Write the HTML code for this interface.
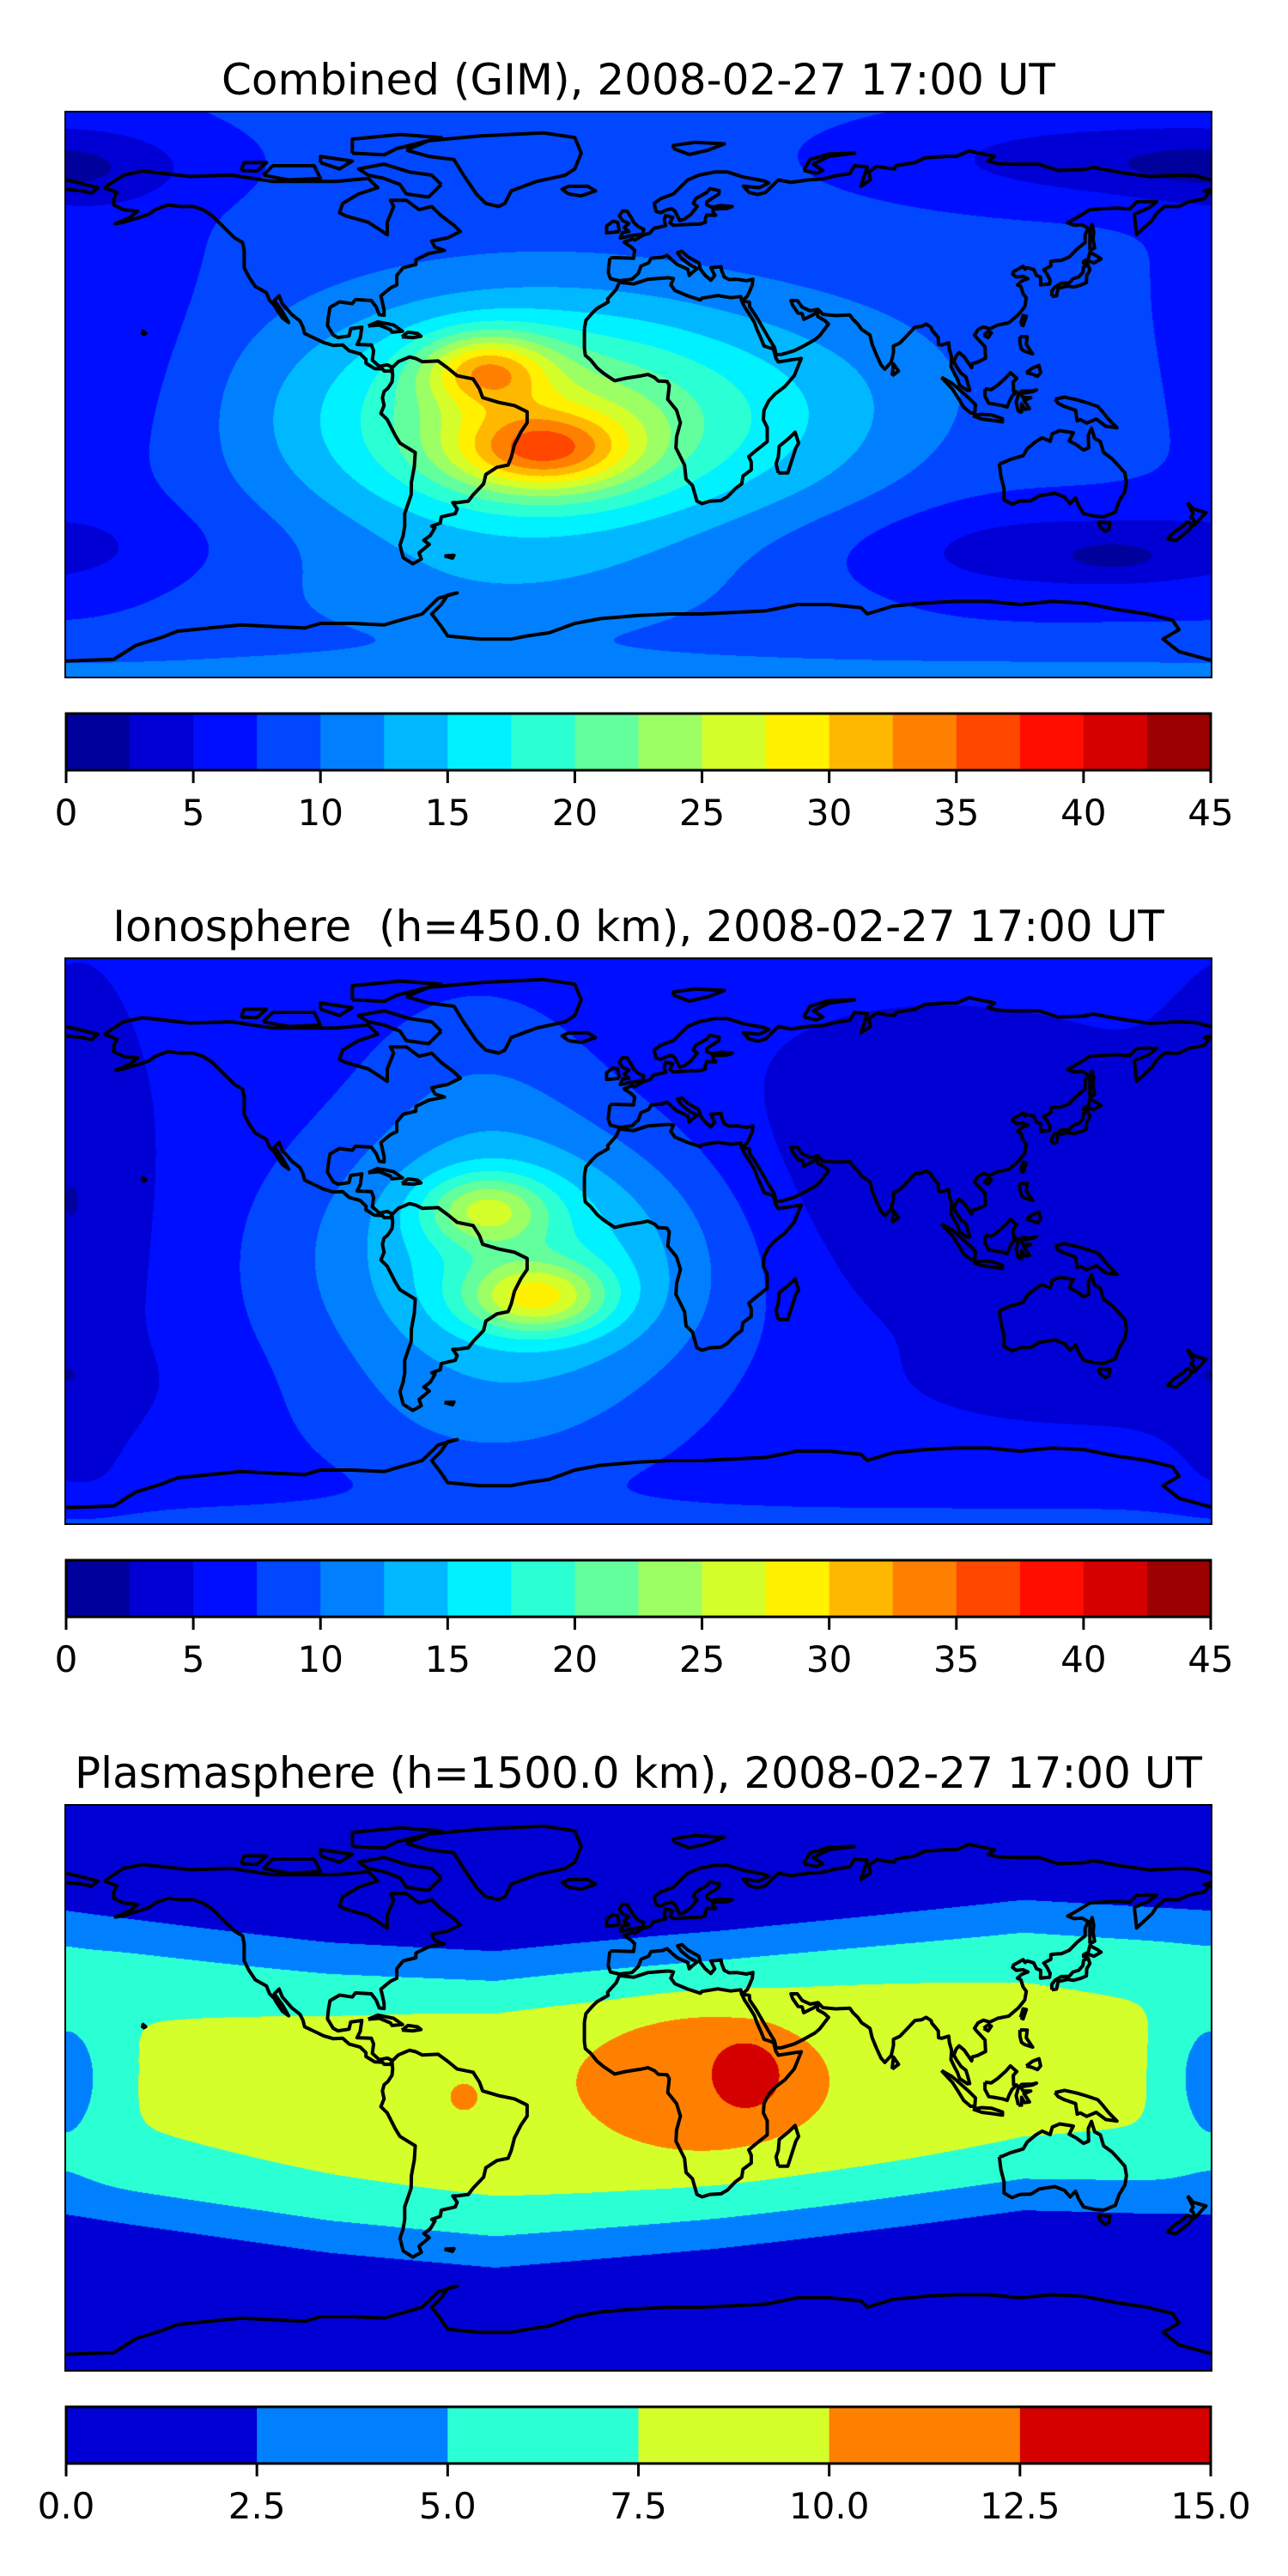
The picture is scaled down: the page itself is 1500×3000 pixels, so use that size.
<!DOCTYPE html>
<html><head><meta charset="utf-8">
<style>
html,body{margin:0;padding:0;background:#fff;}
body{width:1500px;height:3000px;position:relative;overflow:hidden;font-family:"DejaVu Sans","Liberation Sans",sans-serif;}
.title{position:absolute;left:0;width:1487px;text-align:center;font-size:50px;line-height:50px;color:#000;white-space:pre;}
.map{position:absolute;left:77px;width:1333px;height:657px;}
.map canvas{position:absolute;left:0;top:0;width:1333px;height:657px;}
.map svg{position:absolute;left:0;top:0;}
.frame{position:absolute;left:-2px;top:-2px;width:1333px;height:657px;border:2px solid #000;}
.cbar{position:absolute;left:77px;width:1333px;height:66px;}
.cbar svg{position:absolute;left:0;top:0;overflow:visible;}
.tick{position:absolute;font-size:42px;line-height:42px;transform:translateX(-50%);color:#000;}
</style></head>
<body>
<div class="title" style="top:68px">Combined (GIM), 2008-02-27 17:00 UT</div>
<div class="map" id="map0" style="top:131px"></div>
<div class="cbar" id="cb0" style="top:831px"></div>

<div class="title" style="top:1054px">Ionosphere  (h=450.0 km), 2008-02-27 17:00 UT</div>
<div class="map" id="map1" style="top:1117px"></div>
<div class="cbar" id="cb1" style="top:1817px"></div>

<div class="title" style="top:2040px">Plasmasphere (h=1500.0 km), 2008-02-27 17:00 UT</div>
<div class="map" id="map2" style="top:2103px"></div>
<div class="cbar" id="cb2" style="top:2803px"></div>

<script>
// ---------- data ----------
const levelsA = [0,2.5,5,7.5,10,12.5,15,17.5,20,22.5,25,27.5,30,32.5,35,37.5,40,42.5,45];
const levelsB = [0,2.5,5,7.5,10,12.5,15];
const ticksA = ["0","5","10","15","20","25","30","35","40","45"];
const ticksAVal = [0,5,10,15,20,25,30,35,40,45];
const ticksB = ["0.0","2.5","5.0","7.5","10.0","12.5","15.0"];
const ticksBVal = [0,2.5,5,7.5,10,12.5,15];

// Combined field: background + blobs (lon, lat, sigmaLon, sigmaLat, amplitude, power)
const base0 = 8;
const lon0 = [-32,-48,-30,65,-50,140,-178,140,0,-165,100,150];
const lat0 = [-8,8,-18,-5,-65,75,72,-50,-92,15,-20,-52];
const sx0  = [52,14,20,45,60,45,25,55,400,22,25,12];
const sy0  = [26,8,9,25,15,10,8,11,6,45,25,4];
const amp0 = [16.5,12,13,3,2.5,-4,-3,-4.5,4,-2.2,-1,-2];
const pw0  = [2,2,2,2,2,2,2,2,2,2,2,2];

// Ionosphere field
const base1 = 6;
const lon1 = [-35,-48,-32,95,-175,150,0,-50,-50];
const lat1 = [-5,10,-18,20,0,-45,-92,50,-60];
const sx1  = [46,14,16,60,15,40,400,25,40];
const sy1  = [30,8,8,35,60,10,6,25,20];
const amp1 = [11.5,10,12.5,-3.5,-2.5,-2,3,2.5,2.5];
const pw1  = [2,2,2,2,2,2,2,2,2];

// Plasmasphere field: tilted zonal band (centreline) + blobs
const bandLon = [-180,-97,-45,25,121,180];
const bandLat = [8,-3.5,-8,-1,11,8];
const bandAmp = 7.3, bandWidth = 40;
const base2 = 0;
const lon2 = [10,22,35,-55,180,-180];
const lat2 = [2,2,5,-3,3,3];
const sx2  = [85,30,10,4,9,9];
const sy2  = [28,20,11,4,16,16];
const amp2 = [2.5,2.2,1.5,1.6,-2,-2];
const pw2  = [2,4,4,4,2,2];

// coastlines [lon,lat]
const coasts = [
[[-168,66],[-162,70],[-156,71.3],[-141,69.6],[-128,70],[-115,68],[-95,68],[-85,69],[-82,66],[-88,64],[-93,61],[-94,58],[-92,57],[-85,55],[-82,53],[-79,51],[-79,55],[-77,60],[-78,62],[-73,62],[-69,59],[-65,60],[-62,57],[-58,54],[-56,52],[-60,50],[-65,49],[-64,47],[-61,46],[-66,45],[-70,43],[-70,41.5],[-74,40.5],[-76,38],[-76,35],[-78,34],[-81,31.5],[-80,27],[-80,25.3],[-81.5,25.5],[-82.5,28],[-84,30],[-89,30.3],[-90,29],[-94,29.6],[-97,27.8],[-97.5,25],[-97.8,22],[-96,19],[-94.5,18.2],[-91,18.7],[-90.5,21],[-87,21.5],[-87.5,18],[-88.5,16],[-84,15.8],[-83.3,14],[-83.7,11],[-81.5,9],[-79,9.5],[-77.4,8.7],[-78,7.5],[-80,7.5],[-80.5,8.2],[-83,8.3],[-85.7,10],[-85.7,11.2],[-87.5,13],[-91,14],[-93,15.8],[-96,15.7],[-99,16.6],[-101.5,17.8],[-105,19.5],[-105.5,21.5],[-106.5,23.5],[-109,25.5],[-112,29],[-113,31.5],[-114.5,30],[-112,26.5],[-110,23],[-110.3,23.2],[-112,24.5],[-114,27.5],[-114.5,28.5],[-116,30],[-117,32.5],[-120.5,34.5],[-122.5,37.5],[-124,40.5],[-124,46],[-124.5,48.5],[-127,50],[-131,54],[-134,57],[-137,59],[-140,60],[-144,60],[-148,60.5],[-152,59],[-154,57.5],[-157,56.5],[-162,55],[-164.5,54.5],[-160,56.5],[-157.5,58.5],[-162,59],[-165,60.5],[-165,62.5],[-164,64.5],[-168,66]],
[[-73,78],[-66,81],[-50,82.5],[-30,83.5],[-20,82],[-18,77],[-20,72],[-23,70],[-32,68],[-40,65],[-42,61],[-44,60],[-48,61],[-51,64],[-53,67],[-55,70],[-58,75],[-66,76],[-73,78]],
[[-62,67],[-65,70],[-72,71],[-80,73.5],[-88,72],[-85,70],[-80,69],[-75,67],[-73,64],[-66,63],[-62,67]],
[[-90,77],[-80,76.5],[-76,78.5],[-70,80],[-62,82],[-75,83],[-90,81.5],[-90,77]],
[[-118,70],[-110,68.5],[-100,69],[-102,73],[-115,73],[-118,70]],
[[-125,71.5],[-120,71.3],[-117,74],[-124,74],[-125,71.5]],
[[-100,74],[-94,72],[-90,74.5],[-100,76],[-100,74]],
[[-77.5,8.5],[-75.5,10.5],[-72,12],[-70,11.5],[-68,10.5],[-63,10.7],[-60,8.5],[-57,6],[-52,5],[-50,1.8],[-49,-1],[-44,-2.5],[-39,-3.5],[-35,-5.5],[-35,-9],[-37,-12],[-39,-16],[-40,-20],[-41,-22.5],[-44.5,-23.2],[-48,-25.5],[-48.7,-28.5],[-52,-32],[-53.5,-34],[-57,-34.5],[-58.4,-34.5],[-57,-36.5],[-57.6,-38],[-62,-39],[-62.3,-41],[-65,-42],[-64,-42.5],[-65.5,-45],[-67.5,-46.5],[-65.8,-47.8],[-69,-50.5],[-68.3,-52.5],[-71,-54],[-74,-52],[-75,-48],[-74,-45],[-73.5,-42],[-73.5,-38],[-71.5,-32],[-71.4,-28],[-70.5,-23],[-70.2,-18.5],[-75,-15.5],[-76.5,-13],[-79,-8],[-81,-6],[-80,-3.5],[-80.5,-1],[-80,1],[-78.8,2],[-77.5,4],[-77.3,6],[-77.5,8.5]],
[[-17,21],[-17,14.7],[-16.7,12.5],[-15,11],[-13,8.5],[-11,6.8],[-7.5,4.4],[-4,5.2],[1,6],[3,6.4],[5,5.5],[6.3,4.3],[9,4.2],[9.7,3],[9.5,1],[9.2,-1.5],[12,-5],[13.2,-9],[12,-13.5],[11.8,-17],[14.5,-22.5],[15,-27],[17,-29],[18.4,-34],[20,-34.8],[22.5,-34],[26,-33.8],[28,-32.6],[30.5,-30],[32.5,-28.5],[32.9,-26],[35.5,-24],[35.5,-21.5],[34.7,-19.8],[36.8,-18],[40.5,-15],[40.5,-10.5],[39.3,-8],[39.5,-5],[41,-2],[43,0.2],[46,2.5],[49,6],[51.2,11.5],[49.5,11.3],[44,10.4],[43.2,11.7],[42.5,14.5],[39.5,15.5],[38.5,18],[37.2,21],[36.5,23],[35,25.5],[33.5,27.8],[32.5,29.9],[32.2,31.3],[29,30.9],[25,31.6],[20,30.8],[19.5,30.2],[15.5,31.5],[11.5,33.2],[10.2,35],[11,37],[9.5,37.3],[3,36.8],[-1.5,35.3],[-6,35.8],[-7,33.5],[-9.7,30.5],[-9.5,29.5],[-13,27.5],[-14.5,26],[-16.5,23.7],[-17,21]],
[[-9,43.5],[-9.5,39],[-8.8,37],[-6,36.3],[-2,36.8],[0,38.7],[0.8,41],[3.2,42],[4,43.5],[7.5,43.8],[9,44.4],[10.5,43],[12.2,41.5],[15.5,40],[16,38],[17,39],[18.5,40.2],[16,41.5],[13.5,43.6],[12.3,45.3],[13.7,45.7],[15.5,44],[19,42],[19.5,40],[21,38],[22.8,36.5],[24,38],[22.8,40.5],[26,40.8],[26.2,39.5],[27,37.5],[28.5,36.7],[31,36.8],[34,36.3],[36,36.8],[35.8,35],[35,33],[34.2,31.3],[32.5,29.9],[34.9,29.5],[35,28],[37,25],[39,21.5],[41,18],[42.8,15],[43.3,12.7],[45,12.8],[49,14],[52,15.5],[55.5,17.5],[57,18.8],[59.8,22.5],[58.5,23.7],[56.4,24.9],[56.3,26.3],[55,25.5],[52,24],[51.5,25.8],[50.2,26],[48.5,28.5],[48,30],[50,30],[51.5,27.9],[54,26.7],[56.5,27.2],[58,25.6],[62,25.2],[66.5,25.4],[67.5,24],[69,22.5],[70.2,20.8],[72.8,19],[73.5,16],[74.8,12.8],[76.3,9.5],[77.5,8.1],[79.5,10.3],[80.2,13.5],[80.2,15.5],[82.3,16.5],[84.9,19.3],[87,21.5],[89,21.7],[90.5,22.5],[92,21.5],[92.3,20.6],[94.3,18.2],[94.4,16],[95.4,15.8],[97.6,16.5],[97.8,14.5],[98.5,12],[98.3,9],[99.5,6.5],[100.3,5],[101,3],[103.5,1.3],[104.2,1.4],[103.5,4],[103,5.6],[101.5,6.8],[100,9],[99.2,10.5],[100,12.5],[100.9,13.4],[102.5,12],[104.8,8.6],[105,9.9],[106.6,10.3],[109.2,11.6],[109,15.3],[106.5,18],[105.7,19],[106.8,20.7],[108.5,21.6],[110.5,21],[113,22.2],[116.5,22.9],[119.5,25.5],[121.5,28],[122,30.8],[121,32.2],[120.3,34.5],[119.2,35],[120.5,36.2],[122.5,37],[121,37.7],[118.8,37.5],[117.7,38.4],[118,39.2],[121,40.9],[121.6,40],[122.3,40.5],[124.3,39.9],[125.2,38],[126.5,37.5],[126.5,35],[129.3,35.3],[129.5,36.5],[128.5,38.5],[127.5,39.8],[129.7,41],[129.7,42.5],[131,42.7],[133,42.8],[135.5,43.9],[138,46.5],[140.5,48.5],[140.5,51],[141.5,53],[139.5,54.2],[137,54],[135,54.8],[138,56.5],[142,59],[146,59.3],[150.5,59.5],[154.5,59.2],[156.8,61.5],[160,61.6],[163,61.5],[160.5,59.5],[156,57.6],[156.7,51],[158.5,52.7],[161.5,55.5],[163,57.8],[165.5,60],[170,60],[173,61.5],[178,62.5],[179.5,64.5],[178,65],[180,65.5]],
[[180,68.5],[175,69.8],[170,70],[161,69.5],[152,70.8],[143,72.5],[140,71.8],[132,71.5],[129,72.5],[126,73.5],[118,73.5],[113,73.7],[110,74.5],[112,76],[104,77.7],[100,76],[97,76],[90,75.5],[87,74],[81,73],[80.5,72],[78,72.3],[75,72.8],[72.5,71],[73,68.5],[70,66.5],[72,72.6],[68,73],[66.5,70.5],[62,69.8],[58,68.8],[53.5,68.5],[48,67.7],[44,68.5],[42,66.5],[40,64.5],[37.5,63.8],[34.8,64.5],[33,66.5],[38,66],[41,67.5],[39.5,68.2],[33,69.4],[28,71],[24,71],[19,70],[15.5,68.5],[13,66],[11,64],[7,62.5],[5,61],[5.5,58.5],[7,58],[9,59],[10.5,59.3],[11.5,58.5],[12.5,56.5],[13,55.5],[14.5,56],[16.5,57.5],[18.5,60],[17.3,61],[18,62.5],[21.5,64.5],[22.5,65.7],[25.4,65.1],[25.3,64],[21.5,61.5],[21.5,60.5],[23,59.8],[26,60.3],[29.5,60],[28,59.4],[23.5,59.2],[23.5,58.3],[24.3,57.2],[21.5,57.3],[21,56],[21.1,55],[19.5,54.4],[16,54.3],[13.5,54.2],[11,54],[9.9,54.8],[10.8,56.6],[8.5,57.1],[8.1,55.5],[8.6,53.9],[7,53.5],[4.8,53],[3.6,51.5],[1.6,50.9],[-1.2,49.3],[-1.8,49.7],[-4.5,48.6],[-2.3,47.1],[-1.2,46],[-1.5,43.5],[-8,43.7],[-9,43.5]],
[[-180,65.5],[-175,65],[-172,64.3],[-170,66],[-175,67.3],[-180,68.5]],
[[-5,50],[-3,50.6],[1.3,51.2],[1.7,52.7],[0,53.5],[-1.5,55],[-2,56],[-3.5,58.5],[-5,58.6],[-6,57],[-5,55.5],[-3,54.6],[-4.5,53.3],[-3,52],[-5,51.7],[-5.7,50],[-5,50]],
[[-6,52],[-6.5,55],[-8,55.3],[-10,53.8],[-10,51.6],[-6,52]],
[[-22,64],[-24,65.5],[-22,66.4],[-16,66.5],[-13.5,65],[-18,63.4],[-22,64]],
[[11,78.5],[16,76.6],[22,78],[27,80],[18,80.5],[11,79.5],[11,78.5]],
[[52,71.5],[56,70.6],[58,71.5],[55,73.5],[60,76],[68,77],[60,76.8],[54,75],[52,71.5]],
[[130,31.3],[131.5,31.5],[132,33.9],[135,34.6],[136.8,34.3],[139,34.9],[140.9,35.7],[141,38],[142,39.7],[141.4,41.4],[140,40.7],[139.8,39],[138.5,37.5],[136.7,37],[135.5,35.6],[133,35.5],[131,34.3],[130,33],[130,31.3]],
[[140,41.5],[141.5,42.6],[143.3,42],[145.5,43.3],[144.5,44],[142,45.4],[141.5,43.3],[140,42.5],[140,41.5]],
[[142,46],[143.5,46.8],[143,49.5],[143.2,52],[142.7,54.3],[142,52.5],[142,46]],
[[120.2,22.5],[121,22],[122,25],[121,25.2],[120.2,22.5]],
[[108.6,19],[110,18.2],[111,19.7],[110,20.1],[108.6,19]],
[[79.8,6],[81.8,7.5],[80.2,9.8],[79.8,6]],
[[44,-25],[47,-25],[49.5,-17],[50.4,-15.5],[49.3,-12],[47.3,-14],[44.3,-16.5],[44,-20],[43.3,-22],[44,-25]],
[[95.3,5.5],[98.5,3.7],[100.5,2],[103.8,-1],[106,-3.2],[105.8,-5.8],[104.5,-5.9],[102.3,-4],[100.5,-1],[98.8,1.7],[95.3,5.5]],
[[105.2,-6.8],[108,-6.3],[111,-6.5],[114.5,-7.7],[114.5,-8.7],[111,-8.2],[108,-7.8],[105.2,-6.8]],
[[109,1.8],[111,1.6],[113,3],[115.5,5.3],[117,7],[119,5.2],[117.9,4],[118,1],[119,0.9],[117.5,-0.5],[116.5,-2.5],[116,-4],[114.5,-3.5],[111.7,-3],[110.2,-2.8],[109,-0.5],[109,1.8]],
[[119.5,-5.5],[120.5,-5.5],[120.5,-3],[121.5,-4.7],[123,-4.5],[121.3,-1.9],[123.4,-1],[121,-1],[120.2,0.3],[124,0.9],[125.2,1.5],[124,1.2],[120.5,1.1],[119.5,0],[118.8,-2.5],[119.5,-5.5]],
[[131,-1.5],[134,-0.8],[138,-1.7],[141,-2.6],[144.5,-3.8],[146,-5.5],[148,-8],[150.5,-10.6],[147,-10.1],[144,-7.8],[141,-9.1],[139,-8],[138,-8.4],[137.5,-5],[134,-3.8],[132,-2.8],[131,-1.5]],
[[120,18.5],[122.3,18.4],[122,16],[124,13],[121.5,13.8],[120.5,14.5],[120,16.5],[120,18.5]],
[[122,7],[124,8.5],[126,9.3],[126.5,7],[125.5,5.8],[124,6.5],[122,7]],
[[113.5,-22],[114,-26],[115,-30],[115,-33.6],[117.5,-35],[120,-34],[123.5,-33.9],[126,-32.3],[131,-31.5],[134,-32.7],[135.8,-34.8],[137.5,-33],[138.5,-35.5],[140,-38],[143.5,-38.8],[146.4,-39],[150,-37.5],[151.2,-34],[153,-31],[153.5,-28],[153,-25],[150.8,-22.5],[149,-20.5],[146.3,-18.5],[145.3,-15],[143.5,-14],[142.5,-10.7],[141.5,-13],[141.6,-17],[140,-17.7],[137.7,-16],[135.5,-14.8],[136.8,-12.2],[132.5,-11.5],[130.2,-12.5],[129.5,-14.9],[127,-13.8],[125,-15],[122.3,-17.3],[121,-19.5],[117,-20.7],[114.5,-21.8],[113.5,-22]],
[[144.6,-40.7],[148.3,-40.9],[148,-43],[146.8,-43.6],[145.3,-42.3],[144.6,-40.7]],
[[172.7,-34.5],[174.5,-36.5],[178.5,-37.7],[177,-39.3],[175,-41.6],[174.6,-39.8],[173.8,-39.2],[174.5,-38],[172.7,-34.5]],
[[172.7,-40.5],[174.3,-41.7],[172.8,-43.6],[171,-45],[169,-46.6],[166.5,-46],[168.3,-44],[171.5,-41.8],[172.7,-40.5]],
[[-85,21.9],[-82,23.2],[-77,22.2],[-74.2,20.2],[-77.5,19.9],[-78,20.7],[-81.5,22.2],[-85,21.9]],
[[-74.4,18.4],[-72.5,19.9],[-69.5,19.5],[-68.4,18.6],[-71,18.2],[-74.4,18.4]],
[[-156,19],[-155,19.5],[-155.8,20.2],[-156,19]],
[[-61,-51.5],[-58,-51.3],[-58.5,-52.2],[-61,-51.5]],
[[-180,-85],[-165,-84.5],[-158,-80],[-150,-77.5],[-145,-75.5],[-135,-74.5],[-125,-73.5],[-115,-74],[-105,-74.5],[-100,-73],[-90,-73],[-80,-73.5],[-75,-72],[-68,-70],[-63,-65],[-57,-63.3],[-60,-64],[-62,-67],[-65,-70],[-62,-74],[-60,-77],[-50,-78],[-40,-78],[-35,-77],[-28,-76],[-20,-73],[-12,-71.5],[0,-70.5],[10,-70],[20,-70],[30,-69.5],[40,-69],[50,-67],[60,-67],[70,-68],[72,-70],[80,-67.5],[90,-66.5],[100,-66],[110,-66],[120,-67],[130,-66],[140,-66.5],[150,-68.5],[160,-70],[168,-72],[170,-75],[165,-78],[170,-82],[180,-84.8]]
];

// ---------- rendering ----------
const MW = 1333, MH = 657;
function xOf(lon){ return (lon+180)/360*MW; }
function yOf(lat){ return (90-lat)/180*MH; }
function jet(x){
  const c = v => Math.max(0, Math.min(1, v));
  return [c(1.5-Math.abs(4*x-3)), c(1.5-Math.abs(4*x-2)), c(1.5-Math.abs(4*x-1))].map(v=>Math.round(v*255));
}
function bandColors(levels){
  const n = levels.length-1, out=[];
  for(let i=0;i<n;i++) out.push(jet((i+0.5)/n));
  return out;
}
function bandCenter(lon){
  for(let i=0;i<bandLon.length-1;i++){
    if(lon>=bandLon[i] && lon<=bandLon[i+1]){
      const t=(lon-bandLon[i])/(bandLon[i+1]-bandLon[i]);
      return bandLat[i]+t*(bandLat[i+1]-bandLat[i]);
    }
  }
  return bandLat[bandLat.length-1];
}
function drawMap(id, base, lons, lats, sxs, sys, amps, pws, levels, name, useBand){
  const host = document.getElementById(id);
  const cv = document.createElement('canvas');
  
  
  cv.width = MW; cv.height = MH;
  host.appendChild(cv);
  const ctx = cv.getContext('2d');
  const img = ctx.createImageData(MW, MH);
  const cols = bandColors(levels);
  const lmin = levels[0], step = levels[1]-levels[0], n = levels.length-1;
  const centers = [];
  for(let px=0;px<MW;px++) centers.push(bandCenter(-180+(px+0.5)/MW*360));
  for(let py=0;py<MH;py++){
    const lat = 90-(py+0.5)/MH*180;
    for(let px=0;px<MW;px++){
      const lon = -180+(px+0.5)/MW*360;
      let v = base;
      if(useBand){
        const d=(lat-centers[px])/bandWidth;
        v += bandAmp*Math.exp(-d*d*d*d/2);
      }
      for(let k=0;k<lons.length;k++){
        let dx = lon-lons[k];
        if(sxs[k] < 1000){ if(dx>180) dx-=360; if(dx<-180) dx+=360; }
        const dy = lat-lats[k];
        const r2 = (dx*dx)/(sxs[k]*sxs[k]) + (dy*dy)/(sys[k]*sys[k]);
        v += amps[k]*Math.exp(-(pws[k]===4 ? r2*r2 : r2)/2);
      }
      let b = Math.floor((v-lmin)/step);
      if(b<0) b=0; if(b>n-1) b=n-1;
      const c = cols[b], o=(py*MW+px)*4;
      img.data[o]=c[0]; img.data[o+1]=c[1]; img.data[o+2]=c[2]; img.data[o+3]=255;
    }
  }
  ctx.putImageData(img,0,0);
  const ns='http://www.w3.org/2000/svg';
  const svg = document.createElementNS(ns,'svg');
  svg.setAttribute('width',MW); svg.setAttribute('height',MH);
  
  
  coasts.forEach(line=>{
    const pl = document.createElementNS(ns,'polyline');
    pl.setAttribute('points', line.map(p=>xOf(p[0]).toFixed(1)+','+yOf(p[1]).toFixed(1)).join(' '));
    pl.setAttribute('fill','none'); pl.setAttribute('stroke','#000');
    pl.setAttribute('stroke-width','4'); pl.setAttribute('stroke-linejoin','round');
    
    
    svg.appendChild(pl);
  });
  host.appendChild(svg);
  const fr = document.createElement('div');
  fr.className='frame';
  
  
  host.appendChild(fr);
}
function drawCbar(id, levels, tickVals, tickLabels, name){
  const host = document.getElementById(id);
  const ns='http://www.w3.org/2000/svg';
  const svg = document.createElementNS(ns,'svg');
  svg.setAttribute('width',MW); svg.setAttribute('height',90);
  const cols = bandColors(levels), n = levels.length-1;
  const lmin = levels[0], lmax = levels[n];
  const cx = v => (v-lmin)/(lmax-lmin)*MW;
  for(let i=0;i<n;i++){
    const r = document.createElementNS(ns,'rect');
    r.setAttribute('x', cx(levels[i])); r.setAttribute('y',0);
    r.setAttribute('width', cx(levels[i+1])-cx(levels[i])+0.5); r.setAttribute('height',66);
    r.setAttribute('fill','rgb('+cols[i].join(',')+')');
    
    
    svg.appendChild(r);
  }
  const bd = document.createElementNS(ns,'rect');
  bd.setAttribute('x',0); bd.setAttribute('y',0); bd.setAttribute('width',MW); bd.setAttribute('height',66);
  bd.setAttribute('fill','none'); bd.setAttribute('stroke','#000'); bd.setAttribute('stroke-width','3');
  svg.appendChild(bd);
  tickVals.forEach((v,i)=>{
    const t = document.createElementNS(ns,'line');
    t.setAttribute('x1',cx(v)); t.setAttribute('x2',cx(v));
    t.setAttribute('y1',66); t.setAttribute('y2',81);
    t.setAttribute('stroke','#000'); t.setAttribute('stroke-width','3');
    
    
    svg.appendChild(t);
    const lb = document.createElement('div');
    lb.className='tick';
    lb.style.left = cx(v)+'px'; lb.style.top='95px';
    lb.textContent = tickLabels[i];
    
    
    host.appendChild(lb);
  });
  
  
  host.appendChild(svg);
}
drawMap('map0', base0, lon0, lat0, sx0, sy0, amp0, pw0, levelsA, 'combined', false);
drawMap('map1', base1, lon1, lat1, sx1, sy1, amp1, pw1, levelsA, 'ionosphere', false);
drawMap('map2', base2, lon2, lat2, sx2, sy2, amp2, pw2, levelsB, 'plasmasphere', true);
drawCbar('cb0', levelsA, ticksAVal, ticksA, 'combined');
drawCbar('cb1', levelsA, ticksAVal, ticksA, 'ionosphere');
drawCbar('cb2', levelsB, ticksBVal, ticksB, 'plasmasphere');
</script>
</body></html>
